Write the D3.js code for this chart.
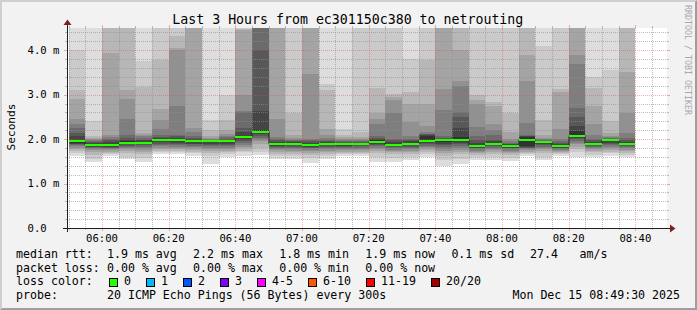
<!DOCTYPE html>
<html>
<head>
<meta charset="utf-8">
<script src="https://cdn.jsdelivr.net/npm/d3@7"></script>
<style>
html, body { margin: 0; padding: 0; background: #f2f2f2; }
svg { display: block; }
text { font-family: "DejaVu Sans Mono", monospace; fill: #000; }
</style>
</head>
<body>
<div id="chart"></div>
<script>
// time window of the graph
const startTime = "05:49:30";
const endTime = "08:49:30";

// end time of each 300s step
const barEnds = ["05:55","06:00","06:05","06:10","06:15","06:20","06:25","06:30","06:35","06:40",
    "06:45","06:50","06:55","07:00","07:05","07:10","07:15","07:20","07:25","07:30",
    "07:35","07:40","07:45","07:50","07:55","08:00","08:05","08:10","08:15","08:20",
    "08:25","08:30","08:35","08:40"];

// median rtt per step (ms)
const medians = [1.95,1.86,1.86,1.92,1.92,1.97,1.97,1.95,1.95,1.95,
    2.04,2.17,1.88,1.90,1.86,1.90,1.88,1.89,1.94,1.87,
    1.90,1.96,1.97,1.99,1.84,1.90,1.84,1.99,1.93,1.84,
    2.08,1.90,1.97,1.90];

// lost pings per step
const losses = [0,0,0,0,0,0,0,0,0,0,0,0,0,0,0,0,0,0,0,0,0,0,0,0,0,0,0,0,0,0,0,0,0,0];

// 20 sorted ping rtts per step (ms)
const pings = [
    [1.63,1.69,1.74,1.77,1.80,1.84,1.86,1.88,1.90,1.92,1.99,2.06,2.14,2.25,2.35,2.45,2.90,3.10,4.00,4.90],
    [1.49,1.56,1.65,1.70,1.75,1.78,1.80,1.82,1.83,1.85,1.89,1.92,1.94,1.96,1.98,2.00,2.03,2.08,2.41,4.80],
    [1.63,1.66,1.69,1.72,1.75,1.77,1.79,1.81,1.83,1.85,1.90,1.94,1.97,2.00,2.05,2.10,3.94,4.60,4.80,5.20],
    [1.55,1.60,1.68,1.73,1.77,1.80,1.82,1.85,1.88,1.91,1.95,1.99,2.03,2.10,2.46,2.91,3.11,4.60,4.90,5.30],
    [1.49,1.58,1.66,1.72,1.76,1.80,1.83,1.86,1.88,1.91,1.94,1.97,1.99,2.02,2.06,2.10,2.14,3.17,3.75,4.70],
    [1.66,1.70,1.74,1.78,1.81,1.84,1.87,1.90,1.93,1.96,2.00,2.02,2.05,2.10,2.22,2.44,2.68,3.79,4.70,5.00],
    [1.66,1.70,1.74,1.77,1.80,1.83,1.86,1.89,1.92,1.95,2.00,2.03,2.06,2.10,2.75,4.00,4.05,4.33,4.70,5.10],
    [1.63,1.68,1.72,1.76,1.79,1.82,1.85,1.88,1.90,1.93,1.97,2.00,2.03,2.08,2.15,2.26,4.60,4.80,5.00,5.40],
    [1.45,1.62,1.68,1.74,1.78,1.81,1.84,1.87,1.90,1.93,1.96,1.97,1.98,1.99,2.01,2.03,2.08,2.20,2.42,4.80],
    [1.60,1.66,1.70,1.74,1.78,1.81,1.84,1.87,1.90,1.93,1.97,1.99,2.01,2.04,2.08,2.12,2.20,2.42,3.00,4.70],
    [1.63,1.70,1.74,1.79,1.83,1.87,1.91,1.95,1.98,2.02,2.08,2.15,2.26,2.60,2.64,3.00,4.45,4.47,4.80,5.10],
    [1.65,1.70,1.80,1.88,1.95,2.00,2.03,2.08,2.12,2.15,2.20,2.64,4.00,4.60,4.70,4.80,4.90,5.00,5.20,5.50],
    [1.55,1.61,1.67,1.71,1.75,1.78,1.81,1.83,1.85,1.87,1.91,1.94,1.97,2.00,2.05,2.46,4.60,4.80,5.00,5.30],
    [1.55,1.61,1.66,1.70,1.74,1.77,1.80,1.83,1.86,1.88,1.91,1.93,1.95,1.97,1.99,2.02,2.10,2.59,4.60,4.90],
    [1.47,1.57,1.64,1.69,1.73,1.76,1.79,1.81,1.83,1.85,1.89,1.92,1.95,1.97,2.00,3.47,4.60,4.80,5.00,5.30],
    [1.56,1.61,1.66,1.70,1.74,1.77,1.80,1.83,1.86,1.89,1.92,1.94,1.96,1.98,2.02,2.10,2.23,3.10,3.25,4.80],
    [1.63,1.66,1.69,1.72,1.75,1.78,1.80,1.83,1.85,1.87,1.90,1.92,1.94,1.96,1.98,2.00,2.04,2.10,2.22,4.70],
    [1.63,1.66,1.69,1.72,1.75,1.78,1.81,1.84,1.86,1.88,1.90,1.92,1.94,1.96,1.98,2.00,2.05,2.15,4.60,4.90],
    [1.49,1.60,1.69,1.74,1.78,1.81,1.84,1.87,1.90,1.92,1.97,2.00,2.03,2.08,2.35,2.46,2.59,3.15,4.60,5.00],
    [1.49,1.58,1.66,1.70,1.73,1.76,1.79,1.82,1.84,1.86,1.90,1.94,1.97,2.00,2.59,2.89,2.95,3.01,4.60,4.90],
    [1.54,1.60,1.66,1.70,1.74,1.77,1.80,1.83,1.86,1.89,1.92,1.95,1.97,2.00,2.06,2.38,2.79,3.05,3.80,4.80],
    [1.60,1.66,1.72,1.76,1.79,1.82,1.85,1.88,1.91,1.94,2.06,2.10,2.11,2.12,2.15,2.29,2.80,3.79,4.60,4.90],
    [1.40,1.52,1.62,1.68,1.74,1.78,1.82,1.86,1.90,1.94,1.99,2.00,2.03,2.07,2.65,3.13,4.60,4.80,5.00,5.30],
    [1.45,1.56,1.66,1.72,1.76,1.80,1.84,1.88,1.92,1.96,2.05,2.25,2.50,2.62,3.20,3.30,4.00,4.60,4.80,5.10],
    [1.54,1.59,1.64,1.68,1.71,1.74,1.77,1.79,1.81,1.83,1.87,1.92,1.97,2.07,2.28,2.80,2.89,3.00,4.60,4.90],
    [1.53,1.60,1.67,1.71,1.75,1.78,1.81,1.84,1.86,1.88,1.92,1.95,1.99,2.10,2.20,2.33,2.75,2.83,4.60,4.90],
    [1.51,1.58,1.64,1.68,1.71,1.74,1.77,1.79,1.81,1.83,1.86,1.88,1.90,1.92,1.95,2.00,2.15,2.59,4.60,4.90],
    [1.63,1.66,1.69,1.72,1.75,1.77,1.79,1.81,1.83,1.85,2.04,2.06,2.08,2.10,2.36,3.30,3.90,4.60,4.80,5.10],
    [1.53,1.60,1.68,1.73,1.77,1.80,1.83,1.86,1.89,1.92,1.94,1.95,1.96,1.98,2.00,2.03,2.10,2.42,4.10,4.80],
    [1.63,1.66,1.68,1.71,1.73,1.75,1.77,1.79,1.81,1.83,1.86,1.89,1.92,1.95,2.00,2.23,3.05,3.13,4.60,4.90],
    [1.60,1.70,1.77,1.83,1.88,1.92,1.96,2.00,2.03,2.06,2.19,2.30,2.50,2.70,3.70,3.90,4.60,4.80,5.00,5.30],
    [1.60,1.65,1.70,1.74,1.77,1.80,1.82,1.84,1.86,1.88,1.92,1.94,1.97,2.00,2.10,2.33,2.74,3.15,3.40,4.80],
    [1.63,1.68,1.72,1.76,1.80,1.83,1.86,1.89,1.92,1.95,1.98,1.99,2.00,2.02,2.04,2.07,2.14,2.40,3.56,4.70],
    [1.60,1.65,1.69,1.73,1.76,1.79,1.82,1.84,1.86,1.88,1.92,1.94,1.97,2.02,2.14,2.59,3.52,4.60,4.80,5.10]
];

// legend texts
const title = "Last 3 Hours from ec301150c380 to netrouting";
const rttStats = ["1.9 ms avg", "2.2 ms max", "1.8 ms min", "1.9 ms now", "0.1 ms sd"];
const amPerSec = ["27.4", "am/s"];
const lossStats = ["0.00 % avg", "0.00 % max", "0.00 % min", "0.00 % now"];
const lossLabels = ["0", "1", "2", "3", "4-5", "6-10", "11-19", "20/20"];
const lossColors = ["#26ff00", "#00b8ff", "#0059ff", "#7e00ff", "#ff00ff", "#ff5500", "#ff0000", "#a10000"];
const probeText = "20 ICMP Echo Pings (56 Bytes) every 300s";
const stamp = "Mon Dec 15 08:49:30 2025";

const W = 697, H = 310;
const L = 67, R = 667, T = 28, B = 228;

const parseT = d3.timeParse("%H:%M:%S");
const parseHM = d3.timeParse("%H:%M");

const x = d3.scaleTime()
    .domain([parseT(startTime), parseT(endTime)])
    .range([L, R]);
const y = d3.scaleLinear()
    .domain([0, 4.5])
    .range([B, T]);

const px = v => Math.round(v);

const svg = d3.select("#chart")
    .append("svg")
    .attr("width", W)
    .attr("height", H);

// background + frame
svg.append("rect").attr("width", W).attr("height", H).attr("fill", "#f2f2f2");
svg.append("path")
    .attr("d", `M0,0H${W}L${W-2},2H2V${H-2}L0,${H}Z`)
    .attr("fill", "#cfcfcf");
svg.append("path")
    .attr("d", `M${W},0V${H}H0L2,${H-2}H${W-2}V2Z`)
    .attr("fill", "#9e9e9e");

svg.append("rect")
    .attr("x", L).attr("y", T)
    .attr("width", R - L).attr("height", B - T)
    .attr("fill", "#ffffff");

svg.append("clipPath").attr("id", "plotclip")
    .append("rect")
    .attr("x", L).attr("y", T)
    .attr("width", R - L).attr("height", B - T);

const bars = barEnds.map((t, i) => {
    const end = parseHM(t);
    return {
        start: d3.timeMinute.offset(end, -5),
        end: end,
        pings: pings[i],
        median: medians[i],
        loss: losses[i]
    };
});

// smoke: band k spans ping k .. ping 21-k, darker towards the middle
const half = 10;
const smokeColor = k => {
    const c = Math.floor(190 / half * (half - k)) + 50;
    return d3.rgb(c, c, c).formatHex();
};

const smoke = svg.append("g")
    .attr("clip-path", "url(#plotclip)")
    .attr("shape-rendering", "crispEdges");

bars.forEach(b => {
    for (let k = 1; k <= half; k++) {
        const lo = b.pings[k - 1];
        const hi = b.pings[20 - k];
        smoke.append("rect")
            .attr("x", px(x(b.start)))
            .attr("width", px(x(b.end)) - px(x(b.start)))
            .attr("y", px(y(hi)))
            .attr("height", px(y(lo)) - px(y(hi)))
            .attr("fill", smokeColor(k));
    }
});

// grid
const grid = svg.append("g").attr("shape-rendering", "crispEdges");
const minorCol = "rgba(143,143,143,0.6)";
const majorCol = "rgba(222,79,79,0.45)";

const xMinor = x.ticks(d3.timeMinute.every(5));
const xMajor = x.ticks(d3.timeMinute.every(20));
const yMinor = d3.ticks(0, 4.5, 22);
const yMajor = d3.ticks(0, 4.5, 5);

function vline(g, xv, col, tick) {
    const xx = px(xv) + 0.5;
    g.append("line").attr("x1", xx).attr("x2", xx).attr("y1", T).attr("y2", B)
        .attr("stroke", col).attr("stroke-dasharray", "1,1");
    g.append("line").attr("x1", xx).attr("x2", xx).attr("y1", T - tick).attr("y2", T)
        .attr("stroke", col);
    g.append("line").attr("x1", xx).attr("x2", xx).attr("y1", B).attr("y2", B + tick)
        .attr("stroke", col);
}
function hline(g, yv, col, tick) {
    const yy = px(yv) + 0.5;
    g.append("line").attr("x1", L).attr("x2", R).attr("y1", yy).attr("y2", yy)
        .attr("stroke", col).attr("stroke-dasharray", "1,1");
    g.append("line").attr("x1", L - tick).attr("x2", L).attr("y1", yy).attr("y2", yy)
        .attr("stroke", col);
    g.append("line").attr("x1", R).attr("x2", R + tick).attr("y1", yy).attr("y2", yy)
        .attr("stroke", col);
}

xMinor.forEach(t => { if (t.getMinutes() % 20 !== 0) vline(grid, x(t), minorCol, 2); });
yMinor.forEach(v => { if (Math.abs(v - Math.round(v)) > 1e-6) hline(grid, y(v), minorCol, 2); });
xMajor.forEach(t => vline(grid, x(t), majorCol, 3));
yMajor.forEach(v => { if (v > 0) hline(grid, y(v), majorCol, 3); });

// median: dark connecting step line, then loss coloured band
const medLine = [];
bars.forEach(b => {
    medLine.push([px(x(b.start)), y(b.median)]);
    medLine.push([px(x(b.end)), y(b.median)]);
});
svg.append("path")
    .attr("d", d3.line()(medLine))
    .attr("fill", "none")
    .attr("stroke", "#202020")
    .attr("stroke-width", 1);

const lossColor = l => lossColors[l === 0 ? 0 : l === 1 ? 1 : l === 2 ? 2 : l === 3 ? 3 : l <= 5 ? 4 : l <= 10 ? 5 : l <= 19 ? 6 : 7];

svg.append("g")
    .attr("shape-rendering", "crispEdges")
    .selectAll("rect")
    .data(bars)
    .join("rect")
    .attr("x", d => px(x(d.start)))
    .attr("width", d => px(x(d.end)) - px(x(d.start)))
    .attr("y", d => Math.round(y(d.median) - 1))
    .attr("height", 2)
    .attr("fill", d => lossColor(d.loss));

// axes with arrows
const axisCol = "#1f1f1f";
const arrowCol = "#801f1f";
svg.append("line").attr("x1", L - 4).attr("x2", R + 4).attr("y1", B + 0.5).attr("y2", B + 0.5)
    .attr("stroke", axisCol).attr("shape-rendering", "crispEdges");
svg.append("line").attr("x1", L + 0.5).attr("x2", L + 0.5).attr("y1", B + 4).attr("y2", T - 4)
    .attr("stroke", axisCol).attr("shape-rendering", "crispEdges");
svg.append("path")
    .attr("d", `M${R + 3},${B - 3.5}L${R + 3},${B + 4.5}L${R + 8.5},${B + 0.5}Z`)
    .attr("fill", arrowCol);
svg.append("path")
    .attr("d", `M${L - 3.5},${T - 3}L${L + 4.5},${T - 3}L${L + 0.5},${T - 8.5}Z`)
    .attr("fill", arrowCol);

// tick labels
const axisFont = "10.6px";
svg.append("g").selectAll("text")
    .data(xMajor)
    .join("text")
    .attr("x", d => x(d))
    .attr("y", 241.5)
    .attr("text-anchor", "middle")
    .style("font-size", axisFont)
    .text(d3.timeFormat("%H:%M"));

svg.append("g").selectAll("text")
    .data(yMajor)
    .join("text")
    .attr("x", 27.5)
    .attr("y", d => y(d) + 3.8)
    .style("font-size", axisFont)
    .text(d => d === 0 ? "0.0" : d3.format(".1f")(d) + " m");

svg.append("text")
    .attr("transform", "translate(14.5,127) rotate(-90)")
    .attr("text-anchor", "middle")
    .style("font-size", "11.2px")
    .text("Seconds");

svg.append("text")
    .attr("x", 347.8).attr("y", 24)
    .attr("text-anchor", "middle")
    .style("font-size", "13.25px")
    .text(title);

svg.append("text")
    .attr("transform", "translate(685,5) rotate(90)")
    .style("font-size", "8.3px")
    .style("fill", "#a8a8a8")
    .text("RRDTOOL / TOBI OETIKER");

// legend
const lg = svg.append("g").style("font-size", "11.6px").attr("xml:space", "preserve");
const rows = [258.3, 271.8, 285.3, 298.8];

lg.append("text").attr("x", 16).attr("y", rows[0]).text("median rtt:");
rttStats.forEach((s, i) => lg.append("text").attr("x", 107 + i * 86.1).attr("y", rows[0]).text(s));
lg.append("text").attr("x", 530).attr("y", rows[0]).text(amPerSec[0]);
lg.append("text").attr("x", 579.5).attr("y", rows[0]).text(amPerSec[1]);

lg.append("text").attr("x", 16).attr("y", rows[1]).text("packet loss:");
lossStats.forEach((s, i) => lg.append("text").attr("x", 107 + i * 86.1).attr("y", rows[1]).text(s));

lg.append("text").attr("x", 16).attr("y", rows[2]).text("loss color:");
let bx = 108.5;
lossLabels.forEach((lab, i) => {
    lg.append("rect")
        .attr("x", Math.round(bx) + 0.5).attr("y", 278.5)
        .attr("width", 8).attr("height", 8)
        .attr("fill", lossColors[i])
        .attr("stroke", "#000");
    lg.append("text").attr("x", bx + 15.5).attr("y", rows[2]).text(lab);
    bx += 30 + 7 * lab.length;
});

lg.append("text").attr("x", 16).attr("y", rows[3]).text("probe:");
lg.append("text").attr("x", 107).attr("y", rows[3]).text(probeText);
lg.append("text").attr("x", 680).attr("y", rows[3]).attr("text-anchor", "end").text(stamp);
</script>
</body>
</html>
